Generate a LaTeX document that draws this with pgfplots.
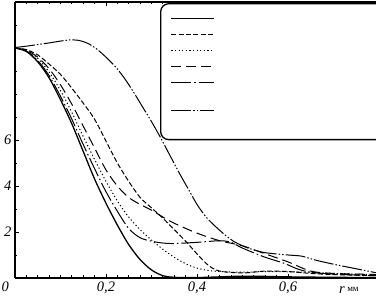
\documentclass[border=0pt]{standalone}
\usepackage{fontspec}
\setmainfont{Liberation Serif}
\usepackage{pgfplots}
\pgfplotsset{compat=1.18}
\begin{document}
\begin{tikzpicture}
\begin{axis}[
  name=a,
  scale only axis, width=361bp, height=276bp,
  xmin=0, xmax=0.7934, ymin=0, ymax=12,
  axis x line*=box, axis y line*=left,
  axis line style={line width=1.3pt,-},
  every outer y axis line/.append style={-},
  xtick={0,0.2,0.4,0.6},
  xticklabels={\makebox[0pt][r]{0\hspace{6bp}},{0,2},{0,4},{0,6}},
  minor x tick num=7,
  ytick={2,4,6}, minor ytick={1,...,12},
  tick align=inside, major tick length=4bp, minor tick length=2.5bp,
  tick style={line width=0.8pt, black},
  ticklabel style={font=\fontsize{14.5bp}{16bp}\selectfont\itshape},
  /pgf/number format/assume math mode=true,
  xlabel={\itshape r\upshape\,\raisebox{1.5bp}{\fontsize{9bp}{10bp}\selectfont мм}},
  xlabel style={at={(axis description cs:0.925,0)}, anchor=base, yshift=-15bp, font=\fontsize{14.5bp}{16bp}\selectfont},
  legend cell align=left,
  legend style={at={(axis description cs:0.4017,0.996)}, anchor=north west,
    draw=black, line width=1.3pt, rounded corners=8bp, fill=white,
    inner xsep=10bp, inner ysep=6.5bp, row sep=1bp,
    cells={anchor=base west, inner sep=0pt}},
  legend image code/.code={\draw[#1] (0bp,3.5bp) -- (43bp,3.5bp);},
]
\addplot[black, line width=1.3pt, smooth, tension=0.5] coordinates {
(0,10) (0.025,9.85) (0.05,9.4) (0.075,8.7) (0.1,7.75) (0.125,6.7) (0.15,5.5) (0.175,4.3) (0.2,3.25) (0.225,2.3) (0.25,1.45) (0.275,0.8) (0.3,0.35) (0.325,0.1) (0.35,0.03) (0.4,0.02) (0.45,0.05) (0.5,0.08) (0.55,0.07) (0.6,0.05) (0.7,0.03) (0.7934,0.02)};
\addlegendentry{\rule[-4bp]{0pt}{13.5bp}\hspace*{190bp}}
\addplot[black, line width=1pt, smooth, tension=0.5, dash pattern=on 5bp off 2.3bp] coordinates {
(0,10) (0.025,9.93) (0.05,9.7) (0.075,9.3) (0.1,8.85) (0.125,8.25) (0.15,7.6) (0.175,6.9) (0.2,5.95) (0.225,5.0) (0.25,4.2) (0.275,3.5) (0.3,3.05) (0.325,2.6) (0.35,2.1) (0.375,1.6) (0.4,1.05) (0.425,0.55) (0.45,0.3) (0.5,0.22) (0.55,0.3) (0.6,0.28) (0.65,0.2) (0.7,0.15) (0.7934,0.1)};
\addlegendentry{\rule[-4bp]{0pt}{13.5bp}}
\addplot[black, line width=1pt, smooth, tension=0.5, dash pattern=on 1.2bp off 2.4bp] coordinates {
(0,10) (0.025,9.9) (0.05,9.55) (0.075,8.95) (0.1,8.15) (0.125,7.2) (0.15,6.15) (0.175,5.15) (0.2,4.2) (0.225,3.35) (0.25,2.65) (0.275,2.1) (0.3,1.65) (0.325,1.25) (0.35,0.9) (0.375,0.62) (0.4,0.43) (0.425,0.33) (0.45,0.28) (0.5,0.25) (0.55,0.28) (0.6,0.27) (0.65,0.25) (0.7,0.2) (0.7934,0.15)};
\addlegendentry{\rule[-4bp]{0pt}{13.5bp}}
\addplot[black, line width=1pt, smooth, tension=0.5, dash pattern=on 10bp off 5bp] coordinates {
(0,10) (0.025,9.9) (0.05,9.6) (0.075,9.1) (0.1,8.4) (0.125,7.55) (0.15,6.6) (0.175,5.65) (0.2,4.7) (0.225,4.0) (0.25,3.5) (0.275,3.2) (0.3,2.95) (0.325,2.65) (0.35,2.38) (0.4,1.95) (0.45,1.62) (0.5,1.4) (0.55,1.05) (0.6,0.7) (0.65,0.3) (0.7,0.2) (0.7934,0.15)};
\addlegendentry{\rule[-4bp]{0pt}{13.5bp}}
\addplot[black, line width=1pt, smooth, tension=0.5, dash pattern=on 20bp off 3bp on 1.5bp off 3bp] coordinates {
(0,10) (0.025,9.87) (0.05,9.45) (0.075,8.8) (0.1,7.9) (0.125,6.9) (0.15,5.8) (0.175,4.75) (0.2,3.75) (0.225,2.9) (0.25,2.15) (0.275,1.75) (0.3,1.6) (0.325,1.52) (0.35,1.5) (0.4,1.55) (0.45,1.62) (0.475,1.55) (0.5,1.3) (0.55,0.9) (0.59,0.65) (0.62,0.4) (0.65,0.25) (0.7,0.17) (0.7934,0.1)};
\addlegendentry{\rule[-4bp]{0pt}{13.5bp}}
\addplot[black, line width=1pt, smooth, tension=0.5, dash pattern=on 20bp off 2bp on 1.5bp off 2bp on 1.5bp off 2bp] coordinates {
(0,10.02) (0.025,10.08) (0.05,10.15) (0.075,10.22) (0.1,10.3) (0.12,10.35) (0.14,10.33) (0.16,10.2) (0.18,9.95) (0.2,9.6) (0.22,9.2) (0.24,8.7) (0.26,8.1) (0.28,7.45) (0.3,6.8) (0.32,6.1) (0.34,5.35) (0.36,4.6) (0.38,3.9) (0.4,3.2) (0.42,2.65) (0.44,2.25) (0.46,1.9) (0.48,1.6) (0.5,1.4) (0.52,1.25) (0.55,1.1) (0.6,1.0) (0.63,0.95) (0.66,0.78) (0.7,0.6) (0.75,0.4) (0.7934,0.23)};
\addlegendentry{\rule[-4bp]{0pt}{26bp}}
\addlegendimage{empty legend}
\addlegendentry{\rule{0pt}{9bp}}
\end{axis}
\pgfresetboundingbox
\path ([shift={(-15bp,-23bp)}]a.south west) rectangle ([shift={(0bp,2bp)}]a.north east);
\end{tikzpicture}
\end{document}
